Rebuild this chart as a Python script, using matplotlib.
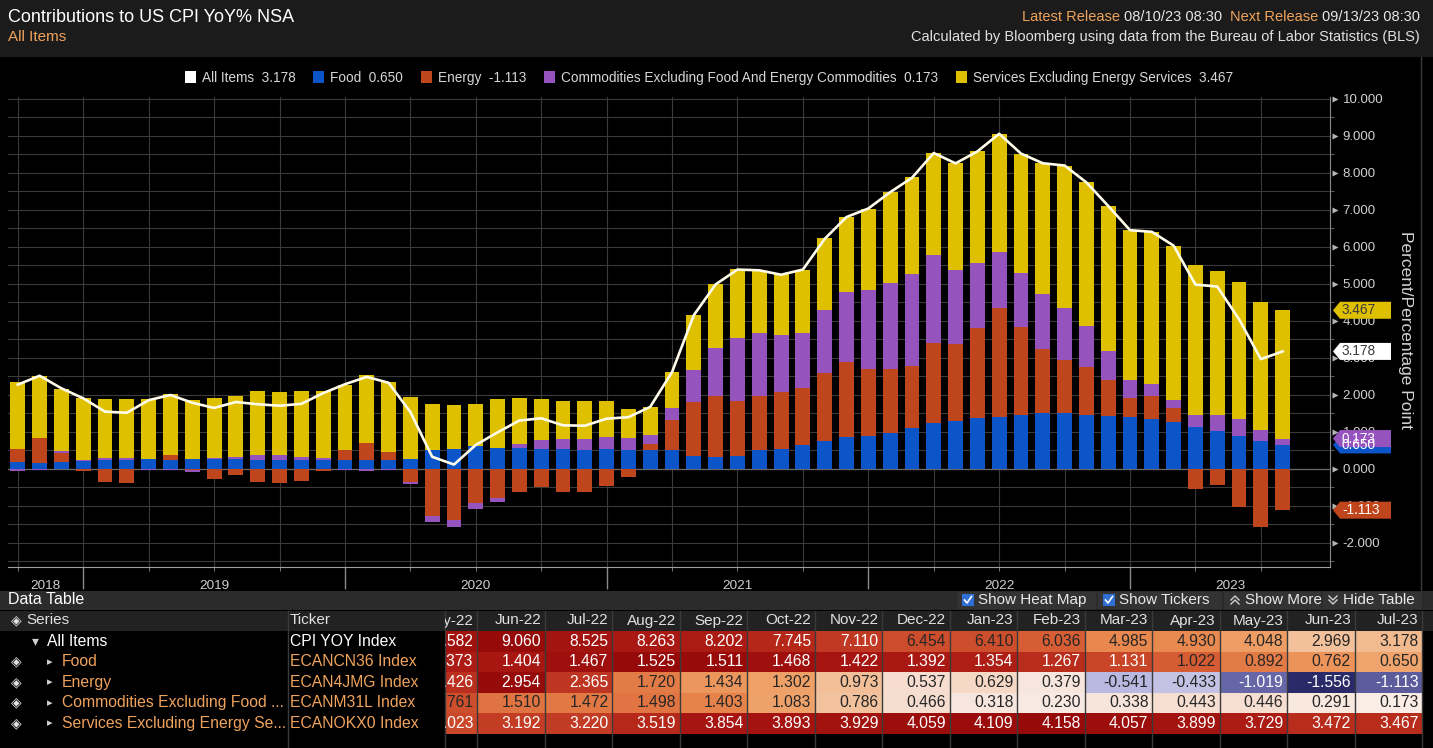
import matplotlib
matplotlib.use("Agg")
import matplotlib.pyplot as plt
import numpy as np
import pandas as pd
from matplotlib.colors import LinearSegmentedColormap
from matplotlib.patches import Rectangle, Polygon, Patch
from matplotlib.ticker import FormatStrFormatter
from matplotlib.transforms import Bbox, blended_transform_factory

plt.rcParams["font.family"] = ["Liberation Sans", "DejaVu Sans"]

# contributions to US CPI YoY (percentage points), Sep-2018 .. Jul-2023
months = pd.period_range("2018-09", "2023-07", freq="M")

food = [0.19, 0.15, 0.19, 0.21, 0.23, 0.25, 0.28, 0.25, 0.27, 0.26,
        0.27, 0.24, 0.24, 0.25, 0.25, 0.25, 0.23, 0.25, 0.27, 0.50,
        0.55, 0.61, 0.58, 0.58, 0.55, 0.55, 0.52, 0.55, 0.52, 0.50,
        0.50, 0.36, 0.33, 0.36, 0.50, 0.54, 0.65, 0.76, 0.87, 0.89,
        0.98, 1.10, 1.23, 1.30, 1.373, 1.404, 1.467, 1.525, 1.511, 1.468,
        1.422, 1.392, 1.354, 1.267, 1.131, 1.022, 0.892, 0.762, 0.650]

energy = [0.36, 0.68, 0.24, -0.06, -0.34, -0.37, 0.00, 0.12, -0.03, -0.27,
          -0.16, -0.35, -0.38, -0.32, -0.05, 0.25, 0.47, 0.21, -0.34, -1.27,
          -1.38, -0.91, -0.79, -0.61, -0.50, -0.61, -0.61, -0.46, -0.23, 0.18,
          0.83, 1.46, 1.64, 1.48, 1.48, 1.54, 1.53, 1.83, 2.03, 1.80,
          1.71, 1.68, 2.18, 2.08, 2.426, 2.954, 2.365, 1.720, 1.434, 1.302,
          0.973, 0.537, 0.629, 0.379, -0.541, -0.433, -1.019, -1.556, -1.113]

core_goods = [-0.05, -0.03, 0.05, 0.03, 0.06, 0.04, -0.04, -0.04, -0.05, 0.03,
              0.05, 0.14, 0.13, 0.08, 0.05, -0.02, -0.06, -0.03, -0.07, -0.15,
              -0.20, -0.18, -0.09, 0.09, 0.24, 0.25, 0.28, 0.32, 0.32, 0.23,
              0.32, 0.86, 1.29, 1.71, 1.69, 1.53, 1.50, 1.71, 1.88, 2.16,
              2.35, 2.49, 2.37, 2.00, 1.761, 1.510, 1.472, 1.498, 1.403, 1.083,
              0.786, 0.466, 0.318, 0.230, 0.338, 0.443, 0.446, 0.291, 0.173]

services = [1.80, 1.69, 1.68, 1.69, 1.60, 1.60, 1.62, 1.67, 1.59, 1.62,
            1.65, 1.72, 1.70, 1.78, 1.80, 1.76, 1.83, 1.89, 1.68, 1.26,
            1.17, 1.15, 1.32, 1.26, 1.11, 1.03, 1.03, 0.96, 0.78, 0.77,
            0.97, 1.49, 1.74, 1.85, 1.68, 1.66, 1.71, 1.94, 2.02, 2.19,
            2.45, 2.63, 2.75, 2.90, 3.023, 3.192, 3.220, 3.519, 3.854, 3.893,
            3.929, 4.059, 4.109, 4.158, 4.057, 3.899, 3.729, 3.472, 3.467]

all_items = [2.28, 2.52, 2.18, 1.91, 1.55, 1.52, 1.86, 2.00, 1.79, 1.65,
             1.81, 1.75, 1.71, 1.76, 2.05, 2.29, 2.49, 2.33, 1.54, 0.33,
             0.12, 0.65, 0.99, 1.31, 1.37, 1.18, 1.17, 1.36, 1.40, 1.68,
             2.62, 4.16, 4.99, 5.39, 5.37, 5.25, 5.39, 6.22, 6.81, 7.04,
             7.48, 7.87, 8.54, 8.26, 8.582, 9.060, 8.525, 8.263, 8.202, 7.745,
             7.110, 6.454, 6.410, 6.036, 4.985, 4.930, 4.048, 2.969, 3.178]

series_names = ["All Items", "Food", "Energy",
                "Commodities Excluding Food And Energy Commodities",
                "Services Excluding Energy Services"]
table_names = ["All Items", "Food", "Energy",
               "Commodities Excluding Food ...", "Services Excluding Energy Se..."]
tickers = ["CPI YOY Index", "ECANCN36 Index", "ECAN4JMG Index",
           "ECANM31L Index", "ECANOKX0 Index"]

BLUE, RED, PURPLE, YELLOW = "#0c55c8", "#bf451d", "#9553be", "#dfc000"
ORANGE = "#f0a35c"
W, H = 1433, 748

fig = plt.figure(figsize=(W / 100, H / 100), dpi=100, facecolor="black")

# background layer in pixel coordinates (y down)
bg = fig.add_axes([0, 0, 1, 1], zorder=0)
bg.set_xlim(0, W)
bg.set_ylim(H, 0)
bg.axis("off")


def box(a, x0, y0, x1, y1, color, **kw):
    a.add_patch(Rectangle((x0, y0), x1 - x0, y1 - y0, fc=color, ec="none", **kw))


box(bg, 0, 0, W, 57, "#1b1b1b")
bg.plot([1421, 1421], [57, 590], color="#3a3a3a", lw=1)

# ---------------- main chart ----------------
ax = fig.add_axes([8 / W, 1 - 567 / H, 1322 / W, 470 / H], zorder=1)
ax.patch.set_alpha(0)
x = np.asarray((months.year - 2018) * 12 + months.month, dtype=float)

pos_base = np.zeros(len(x))
neg_base = np.zeros(len(x))
seg_end = []
for vals, c in zip([food, energy, core_goods, services], [BLUE, RED, PURPLE, YELLOW]):
    v = np.asarray(vals)
    up = np.where(v > 0, v, 0)
    dn = np.where(v < 0, v, 0)
    ax.bar(x, up, 0.68, bottom=pos_base, color=c, lw=0, zorder=3)
    ax.bar(x, dn, 0.68, bottom=neg_base, color=c, lw=0, zorder=3)
    pos_base = pos_base + up
    neg_base = neg_base + dn
    seg_end.append(pos_base[-1] if v[-1] > 0 else neg_base[-1])

ax.plot(x, all_items, color="#fffbea", lw=1.9, zorder=4)

ax.set_xlim(8.55, 69.17)
ax.set_ylim(-2.649, 10.054)
ax.set_axisbelow(True)
for s in ["top", "left"]:
    ax.spines[s].set_visible(False)
ax.spines["right"].set_color("#8a8a8a")
ax.spines["bottom"].set_color("#a0a0a0")

ax.yaxis.tick_right()
yt = np.arange(-2, 11, 1)
ax.set_yticks(yt)
ax.set_yticks(np.arange(-2.5, 10.5, 0.5), minor=True)
ax.yaxis.set_major_formatter(FormatStrFormatter("%.3f"))
ax.tick_params(axis="y", which="major", length=0, labelcolor="#d2d2d2", labelsize=9.5, pad=9)
ax.tick_params(axis="y", which="minor", length=3, color="#707070")
# little arrow heads on the value axis
ax.plot(np.full(len(yt), 1.004), yt, ls="none", marker=">", ms=4.5, color="#b4b4b4",
        mec="none", transform=blended_transform_factory(ax.transAxes, ax.transData),
        clip_on=False)

ax.set_xticks(np.arange(12, 61, 12))
ax.set_xticks([p for p in range(9, 69, 3) if p % 12], minor=True)
ax.tick_params(axis="x", which="major", length=16, width=1, color="#8a8a8a", labelbottom=False)
ax.tick_params(axis="x", which="minor", length=3, color="#8a8a8a")
ax.grid(True, which="both", color="#3a3a3a", lw=0.8)
ax.axhline(0, color="#6a6a6a", lw=0.9, zorder=1)

trans = blended_transform_factory(ax.transData, ax.transAxes)
x0, x1 = ax.get_xlim()
for yr in months.year.unique():
    a = max((yr - 2018) * 12, x0)
    b = min((yr - 2018) * 12 + 12, x1)
    ax.text((a + b) / 2, -0.027, str(yr), transform=trans, ha="center", va="top",
            color="#cfcfcf", fontsize=9.7)

bg.text(1406, 330, "Percent/Percentage Point", rotation=270, ha="center", va="center",
        color="#d2d2d2", fontsize=12.5)

# legend
handles = [Patch(fc=c, ec="none") for c in ["white", BLUE, RED, PURPLE, YELLOW]]
last = [all_items[-1], food[-1], energy[-1], core_goods[-1], services[-1]]
labels = [f"{n}  {v:.3f}" for n, v in zip(series_names, last)]
fig.legend(handles, labels, loc="center", bbox_to_anchor=(709 / W, 1 - 78 / H), ncol=5,
           frameon=False, fontsize=9.8, labelcolor="#d6d6d6", handlelength=0.8,
           handleheight=0.95, handletextpad=0.45, columnspacing=1.3)

# ---------------- header ----------------
bg.text(8, 17, "Contributions to US CPI YoY% NSA", color="white", fontsize=13, va="center")
bg.text(8, 37, "All Items", color=ORANGE, fontsize=11, va="center")

renderer = fig.canvas.get_renderer()


def right_chain(a, xr, y, parts, size):
    for txt, col in reversed(parts):
        t = a.text(xr, y, txt, color=col, fontsize=size, ha="right", va="center")
        xr -= t.get_window_extent(renderer).width + 4


right_chain(bg, 1420, 17, [("Latest Release", ORANGE), ("08/10/23 08:30", "#e6e6e6"),
                           ("", None), ("Next Release", ORANGE), ("09/13/23 08:30", "#e6e6e6")], 10.5)
bg.text(1420, 37, "Calculated by Bloomberg using data from the Bureau of Labor Statistics (BLS)",
        color="#e0e0e0", fontsize=10.5, ha="right", va="center")

# ---------------- data table ----------------
box(bg, 0, 591, W, 610, "#2b2b2b")
bg.text(8, 600, "Data Table", color="white", fontsize=11.5, va="center")
for bx0, bx1 in [(957, 1096), (1098, 1222), (1224, 1321), (1323, 1422)]:
    box(bg, bx0, 592, bx1, 609, "#333333")
for cx in [962, 1103]:
    box(bg, cx, 594, cx + 12, 606, "#2f6fd6")
    bg.plot([cx + 2.5, cx + 5, cx + 9.5], [600, 603, 596.5], color="white", lw=1.2)
bg.text(978, 600, "Show Heat Map", color="#e8e8e8", fontsize=11, va="center")
bg.text(1119, 600, "Show Tickers", color="#e8e8e8", fontsize=11, va="center")
for cy in [598, 602]:
    bg.plot([1231, 1235, 1239], [cy + 2, cy - 2, cy + 2], color="#d0d0d0", lw=1)
    bg.plot([1329, 1333, 1337], [cy - 2, cy + 2, cy - 2], color="#d0d0d0", lw=1)
bg.text(1245, 600, "Show More", color="#e8e8e8", fontsize=11, va="center")
bg.text(1343, 600, "Hide Table", color="#e8e8e8", fontsize=11, va="center")

box(bg, 0, 611, W, 631, "#222222")
row_tops = [631, 651.5, 672, 692.5, 713]
row_h = 20.5
col_w = 67.5
first_right = 477.5
tbl_idx = list(range(len(months) - 15, len(months)))

for sx in [288, 445]:
    bg.plot([sx, sx], [611, H], color="#3a3a3a", lw=1)
for j in range(15):
    xr = first_right + col_w * j
    bg.plot([xr, xr], [611, H], color="#3a3a3a", lw=1)

pts = bg.transData.transform([[445, 611], [W, H]])
clip = Bbox.from_extents(pts[:, 0].min(), pts[:, 1].min(), pts[:, 0].max(), pts[:, 1].max())

bg.text(16, 620.5, "\u25c8", color="#e0e0e0", fontsize=10, ha="center", va="center")
bg.text(26, 620.5, "Series", color="#e0e0e0", fontsize=11, va="center")
bg.text(290, 620.5, "Ticker", color="#e0e0e0", fontsize=11, va="center")
for j, k in enumerate(tbl_idx):
    t = bg.text(first_right + col_w * j - 4, 620.5, months[k].strftime("%b-%y"),
                color="#e0e0e0", fontsize=11, ha="right", va="center")
    t.set_clip_box(clip)
    t.set_clip_on(True)

pos_cmap = LinearSegmentedColormap.from_list(
    "pos", [(0, "#fbf4ef"), (0.13, "#f7e6dc"), (0.2, "#f5dacb"), (0.33, "#f2bf98"),
            (0.44, "#eea066"), (0.55, "#e8884e"), (0.67, "#d65c34"), (0.72, "#cb4a2a"),
            (0.79, "#c03822"), (0.86, "#b42618"), (0.92, "#a81612"), (1.0, "#960a0a")])
neg_cmap = LinearSegmentedColormap.from_list(
    "neg", [(0, "#ece8f2"), (0.35, "#b8b8e0"), (0.65, "#6868a8"), (1.0, "#2a2a68")])

table_series = [all_items, food, energy, core_goods, services]
for r, (vals, name, tick) in enumerate(zip(table_series, table_names, tickers)):
    yt0 = row_tops[r]
    yc = yt0 + row_h / 2
    col = "white" if r == 0 else ORANGE
    if r == 0:
        bg.text(35, yc, "\u25be", color="#d0d0d0", fontsize=10, ha="center", va="center")
        bg.text(47, yc, name, color=col, fontsize=11.3, va="center")
    else:
        bg.text(16, yc, "\u25c8", color="#e0e0e0", fontsize=10, ha="center", va="center")
        bg.text(50, yc, "\u25b8", color="#d0d0d0", fontsize=8, ha="center", va="center")
        bg.text(62, yc, name, color=col, fontsize=11.3, va="center")
    bg.text(290, yc, tick, color=col, fontsize=11.3, va="center")
    vmax, vmin = max(vals), min(vals)
    for j, k in enumerate(tbl_idx):
        v = vals[k]
        if v >= 0:
            tnorm = v / vmax
            rgb = pos_cmap(tnorm)
            light = tnorm < 0.715
        else:
            tnorm = v / vmin
            rgb = neg_cmap(tnorm)
            light = tnorm < 0.5
        xr = first_right + col_w * j
        xl = max(xr - col_w, 445)
        box(bg, xl, yt0, xr, yt0 + row_h, rgb)
        t = bg.text(xr - 4, yc, f"{v:.3f}", color="#262626" if light else "white",
                    fontsize=11.3, ha="right", va="center")
        t.set_clip_box(clip)
        t.set_clip_on(True)

# ---------------- value tags on the right axis ----------------
fg = fig.add_axes([0, 0, 1, 1], zorder=2)
fg.set_xlim(0, W)
fg.set_ylim(H, 0)
fg.axis("off")

to_px = fg.transData.inverted()
tx = to_px.transform(ax.transAxes.transform((1, 0)))[0] + 3
tags = [(seg_end[0], BLUE, "white", food[-1]),
        (seg_end[2], PURPLE, "white", core_goods[-1]),
        (seg_end[1], RED, "white", energy[-1]),
        (seg_end[3], YELLOW, "#3a3a3a", services[-1]),
        (all_items[-1], "white", "#3a3a3a", all_items[-1])]
for yv, fc, tc, val in tags:
    py = to_px.transform(ax.transData.transform((x[-1], yv)))[1]
    fg.add_patch(Polygon([(tx, py), (tx + 7, py - 8.5), (tx + 58, py - 8.5),
                          (tx + 58, py + 8.5), (tx + 7, py + 8.5)], closed=True,
                         fc=fc, ec="none"))
    fg.text(tx + 9, py, f"{val:.3f}", color=tc, fontsize=9.8, va="center")

fig.savefig("out.png", dpi=100, facecolor="black")
